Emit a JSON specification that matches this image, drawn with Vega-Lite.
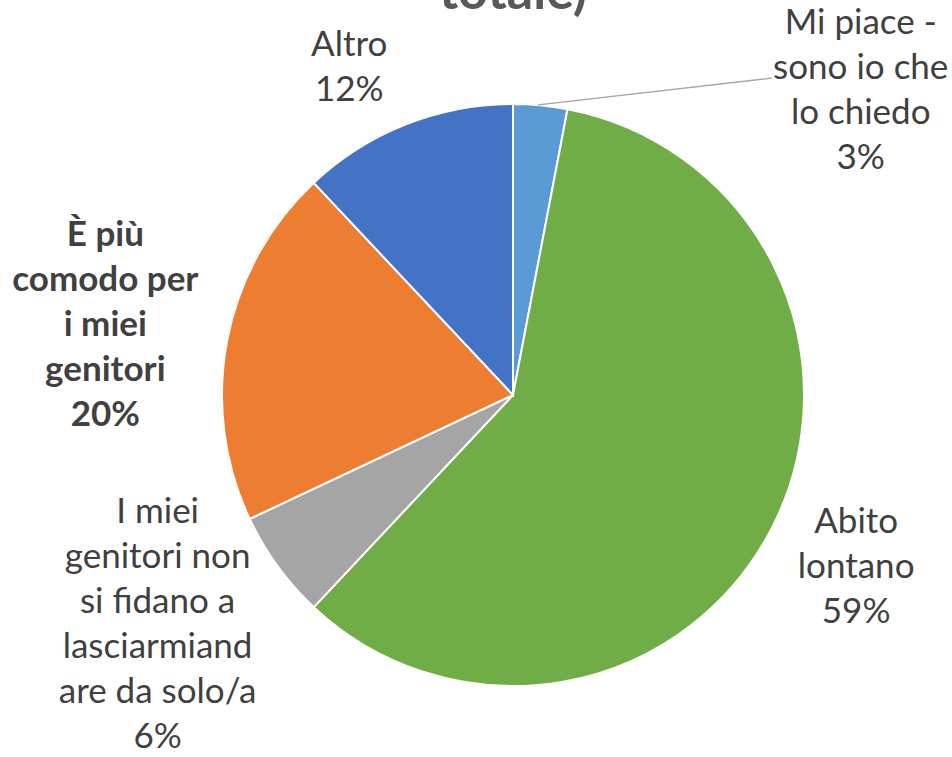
{
  "$schema": "https://vega.github.io/schema/vega-lite/v6.json",
  "width": 878,
  "height": 710,
  "autosize": {"type": "none"},
  "padding": {"left": 74, "top": 40, "right": 0, "bottom": 7},
  "background": "white",
  "config": {"view": {"stroke": null}},
  "title": {"text": "totale)", "fontSize": 52, "font": "Lato", "fontWeight": "bold", "color": "#595959", "anchor": "middle", "offset": 4, "frame": "group", "dy": 197},
  "layer": [
    {
      "data": {"values": [
        {"categoria": "Mi piace - sono io che lo chiedo", "valore": 3, "ordine": 1, "etichetta": "Mi piace -\nsono io che\nlo chiedo\n3%"},
        {"categoria": "Abito lontano", "valore": 59, "ordine": 2, "etichetta": "Abito\nlontano\n59%"},
        {"categoria": "I miei genitori non si fidano a lasciarmiandare da solo/a", "valore": 6, "ordine": 3, "etichetta": "I miei\ngenitori non\nsi fidano a\nlasciarmiand\nare da solo/a\n6%"},
        {"categoria": "È più comodo per i miei genitori", "valore": 20, "ordine": 4, "etichetta": "È più\ncomodo per\ni miei\ngenitori\n20%"},
        {"categoria": "Altro", "valore": 12, "ordine": 5, "etichetta": "Altro\n12%"}
      ]},
      "encoding": {
        "theta": {"field": "valore", "type": "quantitative", "stack": true},
        "order": {"field": "ordine", "type": "quantitative"}
      },
      "layer": [
        {
          "mark": {"type": "arc", "outerRadius": 291, "stroke": "white", "strokeWidth": 2},
          "encoding": {
            "color": {"field": "categoria", "type": "nominal", "legend": null,
              "scale": {"domain": ["Mi piace - sono io che lo chiedo", "Abito lontano", "I miei genitori non si fidano a lasciarmiandare da solo/a", "È più comodo per i miei genitori", "Altro"],
                        "range": ["#5B9BD5", "#70AD47", "#A5A5A5", "#ED7D31", "#4472C4"]}}
          }
        },
        {
          "mark": {"type": "text", "radius": 366, "dx": -29, "dy": -10, "font": "Lato", "fontSize": 35, "color": "#404040", "lineBreak": "\n", "lineHeight": 45, "align": "center", "baseline": "middle"},
          "encoding": {"text": {"condition": {"test": "datum.ordine === 5", "field": "etichetta"}, "value": ""}}
        },
        {
          "mark": {"type": "text", "radius": 384, "dx": 1, "dy": -47, "font": "Lato", "fontSize": 35, "color": "#404040", "lineBreak": "\n", "lineHeight": 45, "align": "center", "baseline": "middle"},
          "encoding": {"text": {"condition": {"test": "datum.ordine === 2", "field": "etichetta"}, "value": ""}}
        },
        {
          "mark": {"type": "text", "radius": 422, "dx": -14, "dy": -131, "font": "Lato", "fontSize": 35, "color": "#404040", "lineBreak": "\n", "lineHeight": 45, "align": "center", "baseline": "middle"},
          "encoding": {"text": {"condition": {"test": "datum.ordine === 3", "field": "etichetta"}, "value": ""}}
        },
        {
          "mark": {"type": "text", "radius": 413, "dx": -2, "dy": -83, "font": "Lato", "fontSize": 35, "fontWeight": "bold", "color": "#404040", "lineBreak": "\n", "lineHeight": 45, "align": "center", "baseline": "middle"},
          "encoding": {"text": {"condition": {"test": "datum.ordine === 4", "field": "etichetta"}, "value": ""}}
        },
        {
          "mark": {"type": "text", "radius": 337, "dx": 316, "dy": -36, "font": "Lato", "fontSize": 35, "color": "#404040", "lineBreak": "\n", "lineHeight": 45, "align": "center", "baseline": "middle"},
          "encoding": {"text": {"condition": {"test": "datum.ordine === 1", "field": "etichetta"}, "value": ""}}
        }
      ]
    },
    {
      "data": {"values": [{}]},
      "mark": {"type": "rule", "color": "#A6A6A6", "strokeWidth": 1.3},
      "encoding": {
        "x": {"datum": 0.086, "type": "quantitative", "scale": {"domain": [-1.5086, 1.5086], "nice": false, "zero": false}, "axis": null},
        "y": {"datum": 0.997, "type": "quantitative", "scale": {"domain": [-1.2199, 1.2199], "nice": false, "zero": false}, "axis": null},
        "x2": {"datum": 0.890},
        "y2": {"datum": 1.089}
      }
    }
  ]
}
